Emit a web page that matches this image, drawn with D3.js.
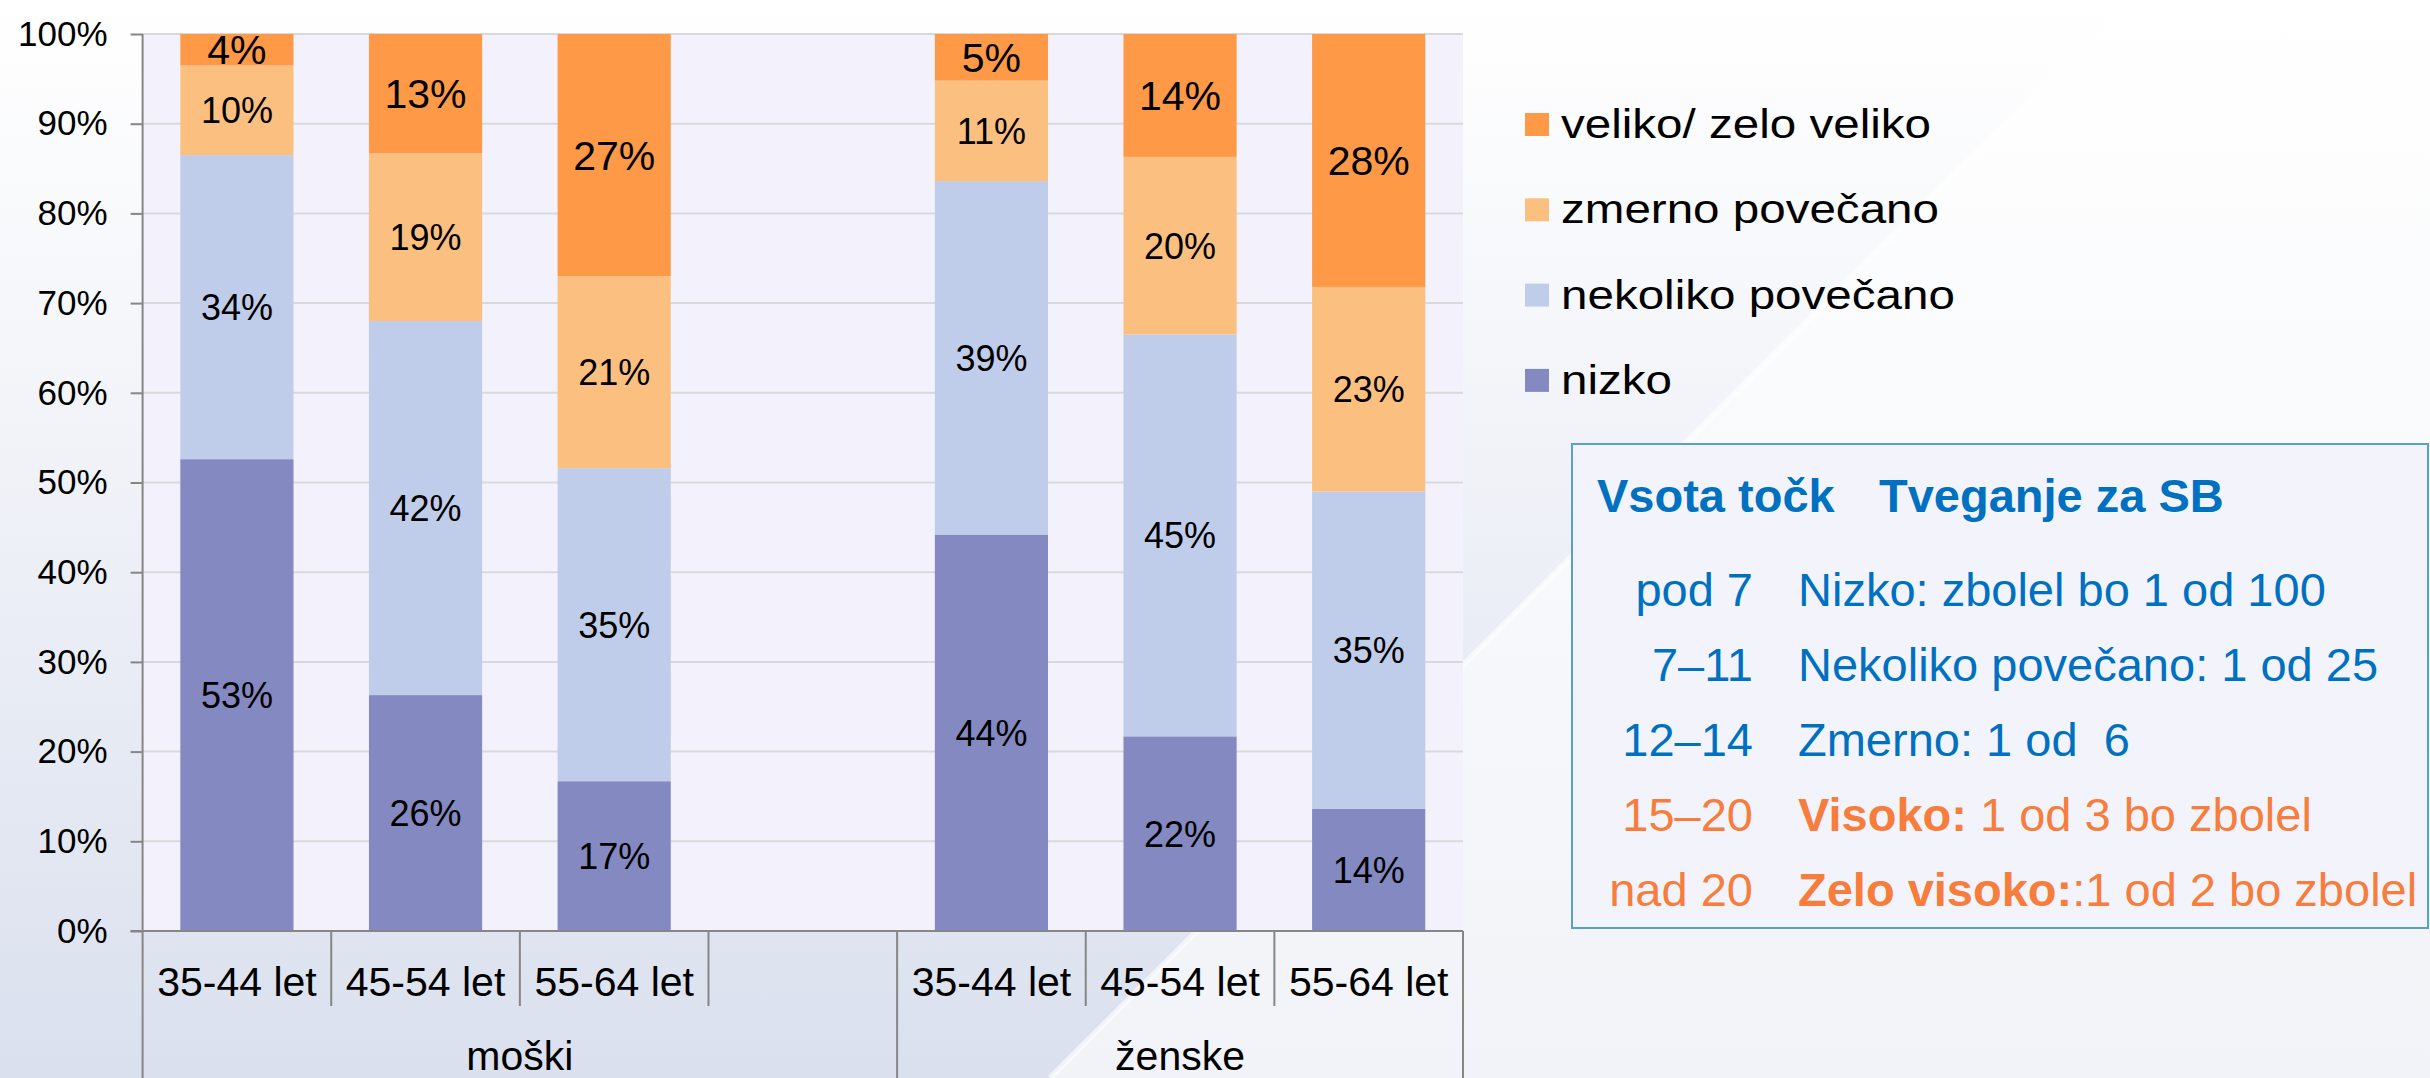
<!DOCTYPE html>
<html>
<head>
<meta charset="utf-8">
<script src="https://cdn.jsdelivr.net/npm/d3@7"></script>
<style>
  html, body { margin: 0; padding: 0; background: #fff; }
  svg { display: block; font-family: "Liberation Sans", Arial, sans-serif; }
  text { white-space: pre; }
</style>
</head>
<body>
<div id="chart"></div>
<script>
// categories (the empty one is the gap slot in the moški group)
const categories = ["35-44 let", "45-54 let", "55-64 let", "", "35-44 let", "45-54 let", "55-64 let"];
const groups = ["moški", "ženske"];
const groupSpans = [[0, 4], [4, 7]];

// series values in %
const nizko    = [52.6, 26.3, 16.7, null, 44.2, 21.7, 13.6];
const nekoliko = [33.9, 41.7, 34.9, null, 39.4, 44.8, 35.4];
const zmerno   = [10.0, 18.7, 21.4, null, 11.2, 19.8, 22.8];
const veliko   = [3.5, 13.3, 27.0, null, 5.2, 13.7, 28.2];

const seriesNames = ["nizko", "nekoliko povečano", "zmerno povečano", "veliko/ zelo veliko"];
const seriesColors = ["#8489c1", "#c0cdea", "#fbc07f", "#fd9947"];
const labelSizes = [36, 36, 36, 41];
const yTicks = [0, 10, 20, 30, 40, 50, 60, 70, 80, 90, 100];

// side table
const scoreRanges = ["pod 7", "7–11", "12–14", "15–20", "nad 20"];
const riskBold = ["", "", "", "Visoko:", "Zelo visoko:"];
const riskText = ["Nizko: zbolel bo 1 od 100", "Nekoliko povečano: 1 od 25", "Zmerno: 1 od  6", " 1 od 3 bo zbolel", ":1 od 2 bo zbolel"];
const rowColors = ["#0070c0", "#0070c0", "#0070c0", "#f77d3d", "#f77d3d"];

const W = 2430, H = 1078;
const plot = { left: 142.6, right: 1463, top: 34, bottom: 931 };

const svg = d3.select("#chart").append("svg")
  .attr("width", W)
  .attr("height", H);

// background
const defs = svg.append("defs");
const bgL = defs.append("linearGradient").attr("id", "bgL").attr("x1", 0).attr("y1", 0).attr("x2", 0).attr("y2", 1);
bgL.append("stop").attr("offset", "0%").attr("stop-color", "#ffffff");
bgL.append("stop").attr("offset", "25%").attr("stop-color", "#f7f8fb");
bgL.append("stop").attr("offset", "100%").attr("stop-color", "#dae0ee");
const bgR = defs.append("linearGradient").attr("id", "bgR").attr("x1", 0).attr("y1", 0).attr("x2", 0).attr("y2", 1);
bgR.append("stop").attr("offset", "0%").attr("stop-color", "#ffffff");
bgR.append("stop").attr("offset", "100%").attr("stop-color", "#f1f3f8");

svg.append("rect").attr("width", W).attr("height", H).attr("fill", "url(#bgL)");
svg.append("path")
  .attr("d", "M2128,0 L2430,0 L2430,1078 L1050,1078 Z")
  .attr("fill", "url(#bgR)");
svg.append("line")
  .attr("x1", 2128).attr("y1", 0).attr("x2", 1050).attr("y2", 1078)
  .attr("stroke", "#ffffff").attr("stroke-width", 6).attr("opacity", 0.6);

// plot area
svg.append("rect")
  .attr("x", plot.left).attr("y", plot.top)
  .attr("width", plot.right - plot.left).attr("height", plot.bottom - plot.top)
  .attr("fill", "#f3f2fc");

let x = d3.scaleBand()
  .domain(d3.range(categories.length))
  .range([plot.left, plot.right])
  .paddingInner(0.4)
  .paddingOuter(0.2);

let y = d3.scaleLinear()
  .domain([0, 100])
  .range([plot.bottom, plot.top]);

// gridlines
svg.append("g")
  .selectAll("line")
  .data(yTicks.filter(d => d > 0))
  .enter()
  .append("line")
  .attr("x1", plot.left).attr("x2", plot.right)
  .attr("y1", d => y(d)).attr("y2", d => y(d))
  .attr("stroke", "#d9d9dd")
  .attr("stroke-width", 2);

// stacked bars
let rows = categories.map((c, i) => ({
  i: i,
  s0: nizko[i] || 0,
  s1: nekoliko[i] || 0,
  s2: zmerno[i] || 0,
  s3: veliko[i] || 0,
  empty: nizko[i] == null
}));
let stack = d3.stack().keys(["s0", "s1", "s2", "s3"]);
let layers = stack(rows);

let layerG = svg.append("g").selectAll("g")
  .data(layers)
  .enter()
  .append("g")
  .attr("fill", (d, k) => seriesColors[k]);

layerG.selectAll("rect")
  .data(d => d.filter(p => !p.data.empty))
  .enter()
  .append("rect")
  .attr("x", d => x(d.data.i))
  .attr("width", x.bandwidth())
  .attr("y", d => y(d[1]))
  .attr("height", d => y(d[0]) - y(d[1]));

// data labels
layerG.each(function(layer, k) {
  d3.select(this).selectAll("text")
    .data(layer.filter(p => !p.data.empty))
    .enter()
    .append("text")
    .attr("x", d => x(d.data.i) + x.bandwidth() / 2)
    .attr("y", d => (y(d[0]) + y(d[1])) / 2 + labelSizes[k] * 0.36)
    .attr("text-anchor", "middle")
    .attr("fill", "#000")
    .style("font-size", labelSizes[k] + "px")
    .text(d => Math.round(d[1] - d[0]) + "%");
});

// y axis
let yAxis = svg.append("g")
  .attr("transform", "translate(" + plot.left + ",0)")
  .call(d3.axisLeft(y).tickValues(yTicks).tickSize(12).tickPadding(23).tickFormat(d => d + "%"));
yAxis.select(".domain").remove();
yAxis.selectAll(".tick line").attr("stroke", "#868686").attr("stroke-width", 2);
yAxis.selectAll(".tick text")
  .attr("fill", "#000")
  .style("font-size", "35px")
  .style("font-family", "'Liberation Sans', Arial, sans-serif");

// category axis lines
const axisColor = "#868686";
svg.append("line")
  .attr("x1", plot.left - 12).attr("x2", plot.right)
  .attr("y1", plot.bottom).attr("y2", plot.bottom)
  .attr("stroke", axisColor).attr("stroke-width", 2);
svg.append("line")
  .attr("x1", plot.left).attr("x2", plot.left)
  .attr("y1", plot.top).attr("y2", plot.bottom)
  .attr("stroke", axisColor).attr("stroke-width", 2);

let step = x.step();
let groupEdges = [0, 4, 7];
svg.append("g").selectAll("line")
  .data(d3.range(categories.length + 1))
  .enter()
  .append("line")
  .attr("x1", i => plot.left + i * step)
  .attr("x2", i => plot.left + i * step)
  .attr("y1", plot.bottom)
  .attr("y2", i => groupEdges.includes(i) ? H : 1006)
  .attr("stroke", axisColor)
  .attr("stroke-width", 2);

svg.append("g").selectAll("text")
  .data(categories)
  .enter()
  .append("text")
  .attr("x", (d, i) => plot.left + (i + 0.5) * step)
  .attr("y", 996)
  .attr("text-anchor", "middle")
  .style("font-size", "41px")
  .text(d => d);

svg.append("g").selectAll("text")
  .data(groups)
  .enter()
  .append("text")
  .attr("x", (d, i) => plot.left + (groupSpans[i][0] + groupSpans[i][1]) / 2 * step)
  .attr("y", 1070)
  .attr("text-anchor", "middle")
  .style("font-size", "41px")
  .text(d => d);

// legend (top series first)
let legendOrder = [3, 2, 1, 0];
let legend = svg.append("g").selectAll("g")
  .data(legendOrder)
  .enter()
  .append("g")
  .attr("transform", (d, k) => "translate(1525," + (113 + k * 85.3) + ")");
legend.append("rect")
  .attr("width", 24).attr("height", 23)
  .attr("fill", d => seriesColors[d]);
legend.append("text")
  .attr("transform", "translate(36,25) scale(1.16,1)")
  .style("font-size", "41px")
  .text(d => seriesNames[d]);

// risk table
svg.append("rect")
  .attr("x", 1572).attr("y", 444)
  .attr("width", 856).attr("height", 484)
  .attr("fill", "#f3f3fb")
  .attr("stroke", "#56a3c7")
  .attr("stroke-width", 2);

svg.append("text")
  .attr("x", 1597).attr("y", 512)
  .attr("fill", "#0070c0")
  .style("font-size", "47px").style("font-weight", "bold")
  .text("Vsota točk");
svg.append("text")
  .attr("x", 1879).attr("y", 512)
  .attr("fill", "#0070c0")
  .style("font-size", "47px").style("font-weight", "bold")
  .text("Tveganje za SB");

let tRows = svg.append("g").selectAll("g")
  .data(scoreRanges)
  .enter()
  .append("g")
  .attr("fill", (d, i) => rowColors[i])
  .style("font-size", "47px");
tRows.append("text")
  .attr("x", 1753)
  .attr("y", (d, i) => 606 + i * 75)
  .attr("text-anchor", "end")
  .text(d => d);
let rt = tRows.append("text")
  .attr("x", 1798)
  .attr("y", (d, i) => 606 + i * 75);
rt.append("tspan")
  .style("font-weight", "bold")
  .text((d, i) => riskBold[i]);
rt.append("tspan")
  .text((d, i) => riskText[i]);
</script>
</body>
</html>
